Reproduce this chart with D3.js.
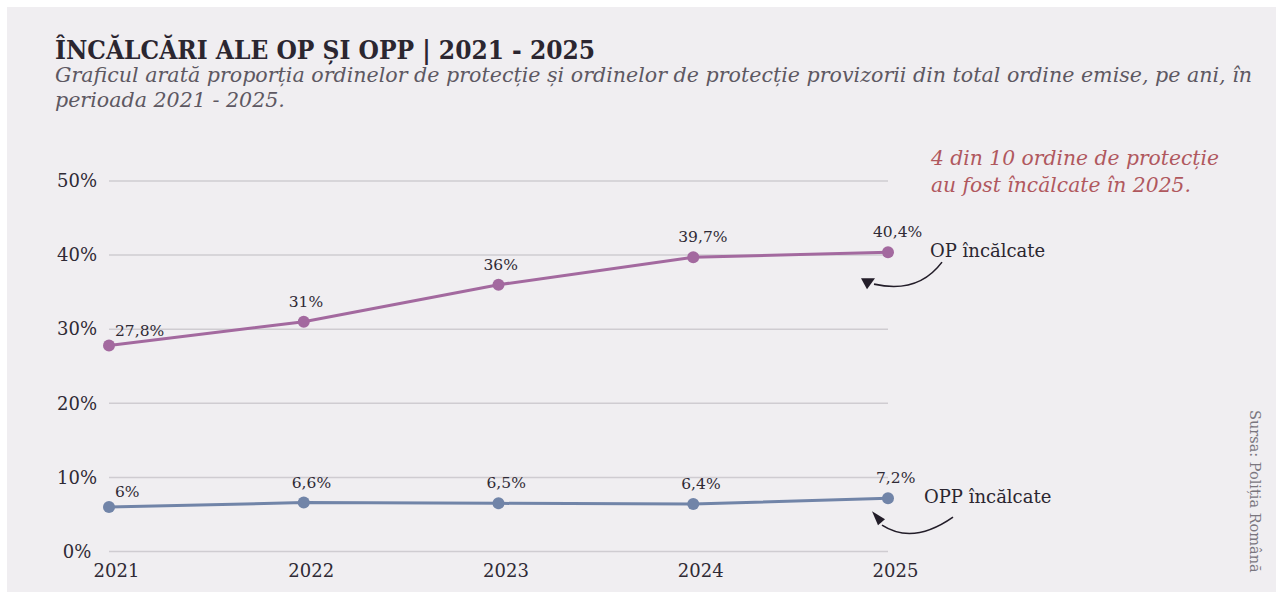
<!DOCTYPE html>
<meta charset="utf-8">
<style>
body { margin: 0; background: #fff; }
text { font-family: "DejaVu Serif", "Liberation Serif", serif; fill: #2b2630; }
.grid line { stroke: #cfccd1; stroke-width: 1.5; }
.axis text { font-size: 18px; fill: #2f2a35; }
.lbl { font-size: 15.5px; fill: #2f2a35; }
</style>
<svg width="1282" height="598"></svg>
<script src="https://cdn.jsdelivr.net/npm/d3@7"></script>
<script>
var years = [2021, 2022, 2023, 2024, 2025];
var opValues = [27.8, 31, 36, 39.7, 40.4];
var oppValues = [6, 6.6, 6.5, 6.4, 7.2];
var yTicks = [0, 10, 20, 30, 40, 50];
var seriesNames = ["OP încălcate", "OPP încălcate"];
var seriesColors = ["#a3699f", "#7184a8"];

var svg = d3.select("svg");

svg.append("rect")
    .attr("x", 7).attr("y", 7)
    .attr("width", 1269).attr("height", 585)
    .attr("fill", "#f0eef1");

var x = d3.scalePoint().domain(years).range([109, 888]);
var y = d3.scaleLinear().domain([0, 50]).range([551.5, 181]);

var comma = function(v) { return String(v).replace(".", ",") + "%"; };

// titlu
svg.append("text")
    .attr("x", 55).attr("y", 59)
    .style("font-size", "26px").style("font-weight", "bold")
    .style("font-stretch", "condensed")
    .style("font-family", "'DejaVu Serif Condensed', 'DejaVu Serif', serif")
    .attr("fill", "#2b2630")
    .text("ÎNCĂLCĂRI ALE OP ȘI OPP | 2021 - 2025");

var sub = svg.append("text")
    .style("font-size", "20.6px").style("font-style", "italic")
    .style("fill", "#5d5862");
sub.append("tspan").attr("x", 55).attr("y", 82)
    .text("Graficul arată proporția ordinelor de protecție și ordinelor de protecție provizorii din total ordine emise, pe ani, în");
sub.append("tspan").attr("x", 55).attr("y", 107)
    .text("perioada 2021 - 2025.");

// grila
svg.append("g").attr("class", "grid")
  .selectAll("line").data(yTicks).enter().append("line")
    .attr("x1", x(2021)).attr("x2", x(2025))
    .attr("y1", function(d) { return y(d); })
    .attr("y2", function(d) { return y(d); });

var yAxis = d3.axisLeft(y).tickValues(yTicks).tickSize(0)
    .tickFormat(function(d) { return d + "%"; });
svg.append("g").attr("class", "axis")
    .attr("transform", "translate(93,0)")
    .call(yAxis)
    .call(function(g) { g.select(".domain").remove(); })
    .selectAll("text").attr("text-anchor", "middle").attr("x", -16)
    .style("font-family", null);

var xAxis = d3.axisBottom(x).tickSize(0).tickFormat(d3.format("d"));
svg.append("g").attr("class", "axis")
    .attr("transform", "translate(7," + y(0) + ")")
    .call(xAxis)
    .call(function(g) { g.select(".domain").remove(); })
    .selectAll("text").attr("dy", null).attr("y", 25)
    .style("font-family", null);

var line = d3.line()
    .x(function(d, i) { return x(years[i]); })
    .y(function(d) { return y(d); });

[opValues, oppValues].forEach(function(vals, s) {
  var g = svg.append("g");
  g.append("path")
      .datum(vals)
      .attr("d", line)
      .attr("fill", "none")
      .attr("stroke", seriesColors[s])
      .attr("stroke-width", 3);
  g.selectAll("circle").data(vals).enter().append("circle")
      .attr("cx", function(d, i) { return x(years[i]); })
      .attr("cy", function(d) { return y(d); })
      .attr("r", 6)
      .attr("fill", seriesColors[s]);
  g.selectAll(".lbl").data(vals).enter().append("text")
      .attr("class", "lbl")
      .attr("x", function(d, i) { return x(years[i]) + (i === 0 ? 6 : (s === 0 ? -15 : -12)); })
      .attr("y", function(d, i) { return y(d) - (i === 0 ? 10 : 15); })
      .text(comma);
});

// adnotari
var xe = x(2025);
svg.append("text")
    .attr("x", xe + 42).attr("y", y(opValues[4]) + 5)
    .style("font-size", "18px")
    .text(seriesNames[0]);
svg.append("text")
    .attr("x", xe + 36).attr("y", y(oppValues[4]) + 5)
    .style("font-size", "18px")
    .text(seriesNames[1]);

var ink = "#231d29";
function arrow(x0, y0, cx, cy, x1, y1, head) {
  svg.append("path")
      .attr("d", "M" + x0 + "," + y0 + " Q" + cx + "," + cy + " " + x1 + "," + y1)
      .attr("fill", "none").attr("stroke", ink).attr("stroke-width", 1.6);
  svg.append("polygon")
      .attr("points", head.map(function(p) { return p.join(","); }).join(" "))
      .attr("fill", ink);
}
var yo = y(opValues[4]);
arrow(xe + 54, yo + 10, xe + 30, yo + 42, xe - 14, yo + 32,
      [[xe - 27, yo + 26], [xe - 13, yo + 26], [xe - 21, yo + 37]]);
var yp = y(oppValues[4]);
arrow(xe + 65, yp + 19, xe + 25, yp + 47, xe - 6, yp + 27,
      [[xe - 16, yp + 13], [xe - 3, yp + 21], [xe - 10, yp + 27]]);

var note = svg.append("text")
    .style("font-size", "20.3px").style("font-style", "italic")
    .style("fill", "#b0585e");
note.append("tspan").attr("x", 931).attr("y", 165).text("4 din 10 ordine de protecție");
note.append("tspan").attr("x", 931).attr("y", 192).text("au fost încălcate în 2025.");

svg.append("text")
    .attr("transform", "translate(1250,410) rotate(90)")
    .style("font-size", "14.5px")
    .style("fill", "#7a767e")
    .text("Sursa: Poliția Română");
</script>
